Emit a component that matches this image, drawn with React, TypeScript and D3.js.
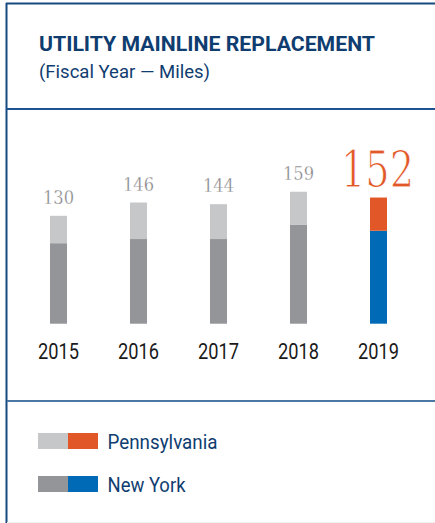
import React from "react";
import * as d3 from "d3";

const years = ["2015", "2016", "2017", "2018", "2019"];
const newYork = [97, 102, 102, 119, 112];
const pennsylvania = [33, 44, 42, 40, 40];
const totals = [130, 146, 144, 159, 152];
const legendLabels = ["Pennsylvania", "New York"];

const NAVY = "#0f3d70";
const GRAY_LIGHT = "#c6c7c9";
const GRAY_DARK = "#939598";
const ORANGE = "#e25727";
const BLUE = "#006ab6";
const SERIF = "'DejaVu Serif Condensed', 'DejaVu Serif', serif";

export default function App() {
  const W = 435;
  const H = 523;
  const x = d3.scaleBand().domain(years).range([18.5, 418.5]).paddingInner(0.7875).paddingOuter(0.39375);
  const y = d3.scaleLinear().domain([0, 200]).range([323.7, 323.7 - 166]);
  const bw = x.bandwidth();
  const last = years.length - 1;

  return (
    <svg width={W} height={H} style={{ position: "absolute", left: 0, top: 0, background: "#fff" }}>
      {/* frame */}
      <line x1={6.5} y1={3} x2={6.5} y2={H} stroke="#174a80" strokeWidth={2} />
      <line x1={6} y1={3.5} x2={W} y2={3.5} stroke="#174a80" strokeWidth={2} />
      <line x1={7} y1={109} x2={W} y2={109} stroke="#1f5290" strokeWidth={2} />
      <line x1={7} y1={401} x2={W} y2={401} stroke="#4a77a3" strokeWidth={2} />
      <line x1={7} y1={522.5} x2={W} y2={522.5} stroke="#f0f0f0" strokeWidth={1} />

      {/* title */}
      <text x={39} y={51} fontFamily="Roboto" fontWeight={700} fontSize={19.5} fill={NAVY}
        textLength={336} lengthAdjust="spacingAndGlyphs">UTILITY MAINLINE REPLACEMENT</text>
      <text x={39} y={77.5} fontFamily="Roboto" fontSize={18.5} fill={NAVY}
        textLength={171} lengthAdjust="spacingAndGlyphs">(Fiscal Year — Miles)</text>

      {/* bars */}
      {years.map((yr, i) => {
        const x0 = x(yr)!;
        const isLast = i === last;
        return (
          <g key={yr}>
            <rect x={x0} y={y(newYork[i])} width={bw} height={y(0) - y(newYork[i])} fill={isLast ? BLUE : GRAY_DARK} />
            <rect x={x0} y={y(newYork[i] + pennsylvania[i])} width={bw}
              height={y(newYork[i]) - y(newYork[i] + pennsylvania[i])} fill={isLast ? ORANGE : GRAY_LIGHT} />
            {isLast ? (
              <text x={x0 + bw / 2 - 1} y={y(totals[i]) - 10.5} textAnchor="middle" fontFamily={SERIF}
                fontStretch="condensed" fontSize={50} fill={ORANGE} stroke="#fff" strokeWidth={1.0}
                textLength={73} lengthAdjust="spacingAndGlyphs">{totals[i]}</text>
            ) : (
              <text x={x0 + bw / 2} y={y(totals[i]) - 12} textAnchor="middle" fontFamily={SERIF}
                fontStretch="condensed" fontSize={18} fill="#7f8083" stroke="#fff" strokeWidth={0.3}
                textLength={31} lengthAdjust="spacingAndGlyphs">{totals[i]}</text>
            )}
            <text x={x0 + bw / 2} y={359} textAnchor="middle" fontFamily="Roboto" fontSize={21.5}
              fill="#1a1a1a" textLength={41} lengthAdjust="spacingAndGlyphs">{yr}</text>
          </g>
        );
      })}

      {/* legend */}
      {legendLabels.map((lab, i) => {
        const ly = 433 + i * 43;
        const c1 = i === 0 ? GRAY_LIGHT : GRAY_DARK;
        const c2 = i === 0 ? ORANGE : BLUE;
        return (
          <g key={lab}>
            <rect x={38} y={ly} width={30} height={16} fill={c1} />
            <rect x={68} y={ly} width={30} height={16} fill={c2} />
            <text x={107.5} y={ly + 16} fontFamily="Roboto" fontSize={20.5} fill={NAVY}
              textLength={i === 0 ? 110 : 78} lengthAdjust="spacingAndGlyphs">{lab}</text>
          </g>
        );
      })}
    </svg>
  );
}
